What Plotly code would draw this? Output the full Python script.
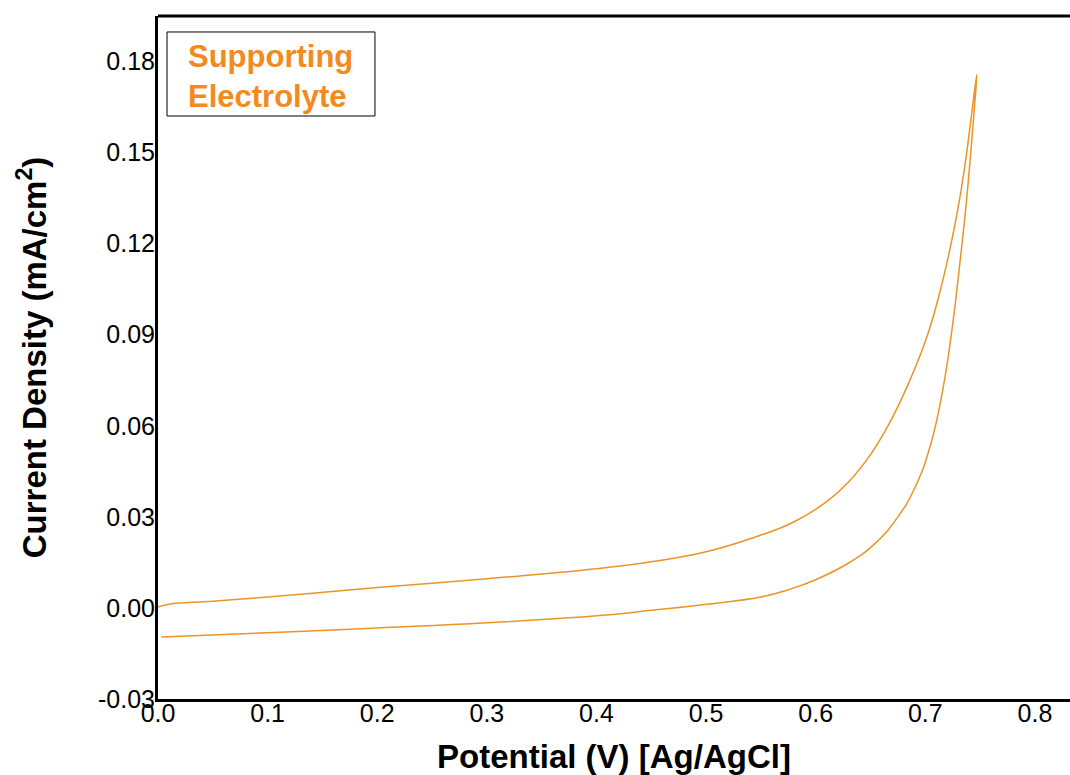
import plotly.graph_objects as go

# Forward (anodic) sweep
fwd_potential = [0.0, 0.01, 0.05, 0.1, 0.2, 0.3, 0.4, 0.45, 0.5, 0.55, 0.58, 0.61, 0.63, 0.65,
                 0.666, 0.684, 0.702, 0.716, 0.729, 0.737, 0.742, 0.747]
fwd_current = [0.0003, 0.0012, 0.0022, 0.0036, 0.0067, 0.0096, 0.0129, 0.0152, 0.0185, 0.0240, 0.0283,
               0.0350, 0.0415, 0.0505, 0.0600, 0.0734, 0.0899, 0.1080, 0.1300, 0.1480, 0.1620, 0.1757]

# Reverse (cathodic) sweep
rev_potential = [0.747, 0.7445, 0.741, 0.737, 0.731, 0.725, 0.716, 0.705, 0.691, 0.675, 0.655, 0.63,
                 0.60, 0.575, 0.55, 0.495, 0.45, 0.4, 0.3, 0.2, 0.1, 0.003]
rev_current = [0.1757, 0.1635, 0.1480, 0.1320, 0.1119, 0.0935, 0.0720, 0.0540, 0.0400, 0.0300, 0.0215,
               0.0148, 0.0093, 0.0060, 0.0036, 0.0010, -0.0008, -0.0026, -0.0049, -0.0066, -0.0082,
               -0.0096]

x_ticks = [0.0, 0.1, 0.2, 0.3, 0.4, 0.5, 0.6, 0.7, 0.8]
y_ticks = [-0.03, 0.0, 0.03, 0.06, 0.09, 0.12, 0.15, 0.18]
y_tick_labels = ["-0.03", "0.00", "0.03", "0.06", "0.09", "0.12", "0.15", "0.18"]
legend_text = "Supporting<br>Electrolyte"

line_color = "#EC9426"
text_color = "#F28A1E"
font_family = "Liberation Sans, Arial, sans-serif"

fig = go.Figure()
fig.add_trace(go.Scatter(
    x=fwd_potential + rev_potential[1:],
    y=fwd_current + rev_current[1:],
    mode="lines",
    line=dict(color=line_color, width=1.5, shape="spline", smoothing=1.3),
    showlegend=False,
    hoverinfo="skip",
))

fig.update_layout(
    width=1070, height=775,
    margin=dict(l=158, r=0, t=16, b=76),
    paper_bgcolor="white", plot_bgcolor="white",
    font=dict(family=font_family, color="black"),
    xaxis=dict(
        range=[0, 0.832], tickvals=x_ticks, ticktext=[f"{v:.1f}" for v in x_ticks],
        showgrid=False, zeroline=False, showline=True, linecolor="black", linewidth=3,
        ticks="", tickfont=dict(size=25, family=font_family, color="black"),
        ticklabelstandoff=-10,
        title=dict(text="<b>Potential (V) [Ag/AgCl]</b>", font=dict(size=33, family=font_family),
                   standoff=19),
    ),
    yaxis=dict(
        range=[-0.03, 0.195], tickvals=y_ticks, ticktext=y_tick_labels,
        showgrid=False, zeroline=False, showline=True, linecolor="black", linewidth=3,
        ticks="", tickfont=dict(size=25, family=font_family, color="black"),
        ticklabelstandoff=-5,
        title=dict(text="<b>Current Density (mA/cm<sup>2</sup>)</b>", font=dict(size=33, family=font_family),
                   standoff=42),
    ),
    shapes=[
        dict(type="line", xref="paper", yref="paper", x0=0, x1=1, y0=1, y1=1,
             line=dict(color="black", width=3)),
        dict(type="rect", xref="paper", yref="paper", x0=0.0099, x1=0.2379, y0=0.8536, y1=0.9766,
             line=dict(color="black", width=1), fillcolor="rgba(0,0,0,0)"),
    ],
    annotations=[
        dict(text=f"<b>{legend_text}</b>", xref="paper", yref="paper", x=0.031, y=0.912,
             xanchor="left", yanchor="middle", align="left", showarrow=False,
             font=dict(size=31, family=font_family, color=text_color)),
    ],
)

fig.write_html("out.html")
